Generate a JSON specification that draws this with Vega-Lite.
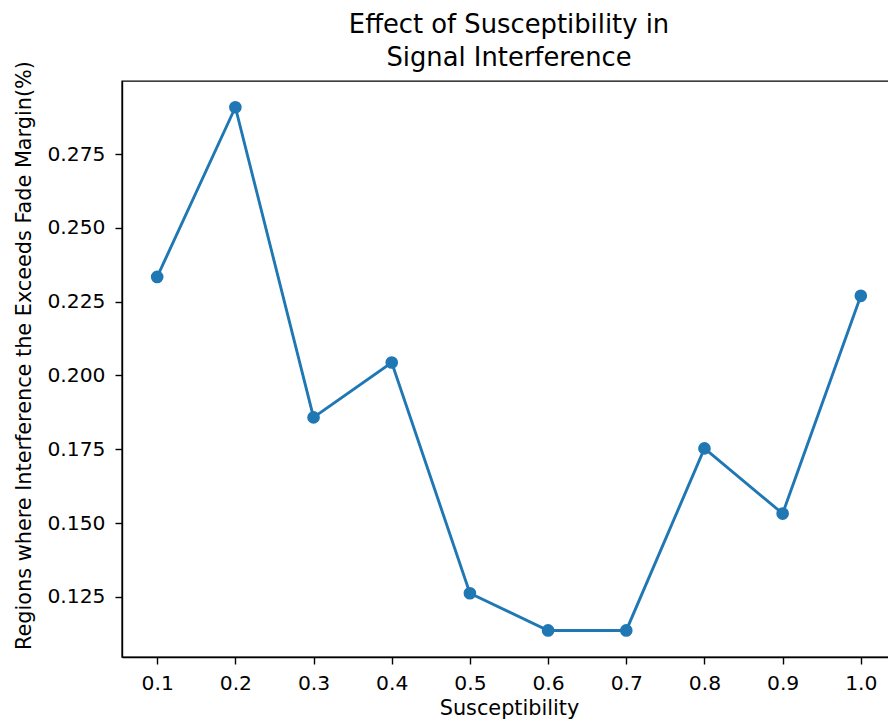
{
  "$schema": "https://vega.github.io/schema/vega-lite/v6.json",
  "autosize": {"type": "none"},
  "padding": {"left": 122, "top": 81, "right": 0, "bottom": 70},
  "width": 774,
  "height": 576,
  "config": {
    "font": "DejaVu Sans",
    "view": {"stroke": "#000000", "strokeWidth": 1.4},
    "axis": {"grid": false, "labelFont": "DejaVu Sans", "titleFont": "DejaVu Sans", "labelFontSize": 20.3, "titleFontSize": 20.8, "labelColor": "#000000", "titleColor": "#000000", "tickColor": "#000000", "domainColor": "#000000", "tickSize": 7, "tickWidth": 1.4, "domainWidth": 1.4, "labelPadding": 8, "titleFontWeight": "normal"}
  },
  "title": {"text": ["Effect of Susceptibility in", "Signal Interference"], "font": "DejaVu Sans", "fontSize": 25.8, "fontWeight": "normal", "color": "#000000", "lineHeight": 33, "offset": 12, "dy": 23},
  "data": {"values": [
    {"s": 0.1, "r": 0.2334},
    {"s": 0.2, "r": 0.2909},
    {"s": 0.3, "r": 0.1858},
    {"s": 0.4, "r": 0.2044},
    {"s": 0.5, "r": 0.1262},
    {"s": 0.6, "r": 0.1136},
    {"s": 0.7, "r": 0.1136},
    {"s": 0.8, "r": 0.1753},
    {"s": 0.9, "r": 0.1532},
    {"s": 1.0, "r": 0.2270}
  ]},
  "mark": {"type": "line", "color": "#1f77b4", "strokeWidth": 2.9, "point": {"filled": true, "size": 160, "color": "#1f77b4", "opacity": 1}},
  "encoding": {
    "x": {"field": "s", "type": "quantitative", "title": "Susceptibility", "scale": {"domain": [0.055, 1.045], "nice": false, "zero": false}, "axis": {"values": [0.1, 0.2, 0.3, 0.4, 0.5, 0.6, 0.7, 0.8, 0.9, 1.0], "format": ".1f", "labelPadding": 9, "titlePadding": 5}},
    "y": {"field": "r", "type": "quantitative", "title": "Regions where Interference the Exceeds Fade Margin(%)", "scale": {"domain": [0.1046, 0.2998], "nice": false, "zero": false}, "axis": {"values": [0.125, 0.15, 0.175, 0.2, 0.225, 0.25, 0.275], "format": ".3f", "labelPadding": 10, "titlePadding": 12, "titleY": 274}}
  }
}
